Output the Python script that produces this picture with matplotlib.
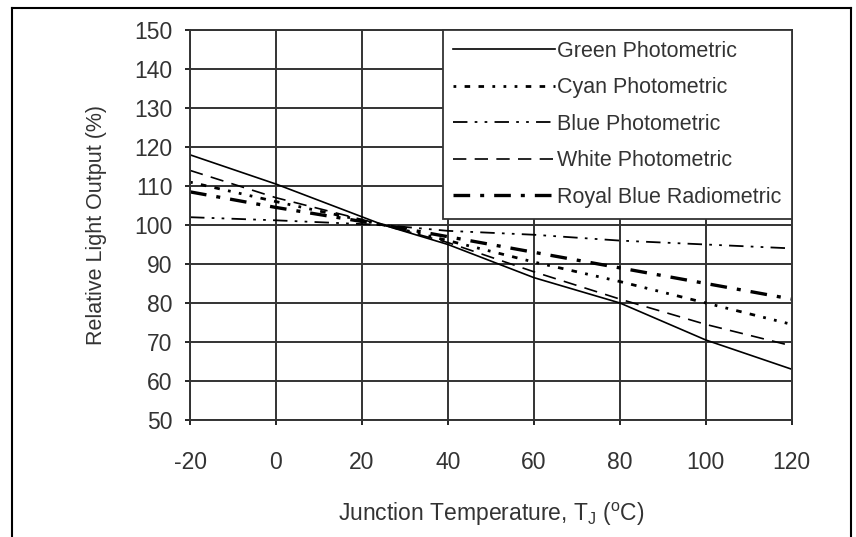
import matplotlib
matplotlib.use("Agg")
import matplotlib.pyplot as plt
from matplotlib.lines import Line2D

plt.rcParams['font.family'] = ['Liberation Sans', 'DejaVu Sans']
plt.rcParams['axes.unicode_minus'] = False

temps = [-20, 0, 25, 40, 60, 80, 100, 120]
green = [118, 110.5, 100, 95, 86.5, 80, 70.5, 63]
cyan = [111, 106, 100, 96, 90.5, 85.5, 80, 74.5]
blue = [102, 101.2, 100, 98.5, 97.5, 96, 95, 94]
white = [114, 107, 100, 95.5, 88, 81, 74.5, 69]
royal = [108.5, 104.5, 100, 97, 93, 89, 85, 81]

labels = ["Green Photometric", "Cyan Photometric", "Blue Photometric",
          "White Photometric", "Royal Blue Radiometric"]
xticks = [-20, 0, 20, 40, 60, 80, 100, 120]
yticks = [50, 60, 70, 80, 90, 100, 110, 120, 130, 140, 150]

txt = '#333333'

fig = plt.figure(figsize=(8.56, 5.37), dpi=100)
ax = fig.add_axes([0.222, 0.218, 0.703, 0.726])

# outer frame of the figure
fig.add_artist(Line2D([12/856, 12/856], [0, 1 - 8/537], color='black', lw=1.5))
fig.add_artist(Line2D([12/856, 851/856], [1 - 8/537, 1 - 8/537], color='black', lw=1.5))
fig.add_artist(Line2D([851/856, 851/856], [0, 1 - 8/537], color='black', lw=1.5))

ax.plot(temps, green, color='black', lw=1.2, linestyle='-', label=labels[0])
ax.plot(temps, cyan, color='black', lw=2.0, linestyle=(0, (1, 3, 2, 3, 2, 3, 1, 3, 1, 3)), label=labels[1])
ax.plot(temps, blue, color='black', lw=1.3, linestyle=(0, (8, 4, 1.5, 4, 1.5, 4)), label=labels[2])
ax.plot(temps, white, color='black', lw=1.2, linestyle=(0, (8, 5)), label=labels[3])
ax.plot(temps, royal, color='black', lw=2.4, linestyle=(0, (5, 3, 1.2, 3)), label=labels[4])

ax.set_xlim(-20, 120)
ax.set_ylim(50, 150)
ax.set_xticks(xticks)
ax.set_yticks(yticks)
ax.grid(True, color='#333333', lw=1.4)
ax.set_axisbelow(True)
for s in ax.spines.values():
    s.set_color('#333333')
    s.set_linewidth(1.4)
ax.tick_params(direction='out', length=3.6, width=1.2, labelsize=16.5, labelcolor=txt)
ax.tick_params(axis='x', pad=19)
ax.tick_params(axis='y', pad=9)

ax.set_xlabel("Junction Temperature, T$_\\mathregular{J}$ ($^\\mathregular{o}$C)", fontsize=16.5,
              color=txt, labelpad=19)
ax.set_ylabel("Relative Light Output (%)", fontsize=15.5, color=txt, labelpad=20)

leg = ax.legend(loc='upper right', borderaxespad=0, fontsize=15.5, handlelength=4.7,
                handletextpad=0.1, labelspacing=0.72, fancybox=False, framealpha=1,
                borderpad=0.5)
leg.get_frame().set_edgecolor('#333333')
leg.get_frame().set_linewidth(1.3)
for t in leg.get_texts():
    t.set_color(txt)

fig.savefig("out.png", dpi=100)
